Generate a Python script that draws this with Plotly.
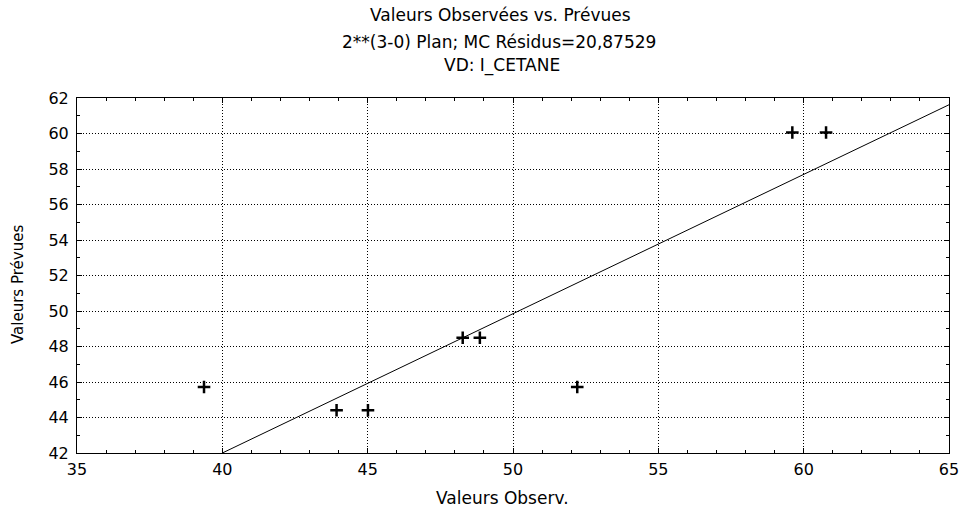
import plotly.graph_objects as go

observed = [39.37, 43.93, 45.01, 48.27, 48.86, 52.21, 59.61, 60.77]
predicted = [45.72, 44.41, 44.41, 48.49, 48.49, 45.72, 60.06, 60.06]
fit_x = [40.0, 65.0]
fit_y = [42.0, 61.62]

title_lines = ["Valeurs Observées vs. Prévues",
               "2**(3-0) Plan; MC Résidus=20,87529",
               "VD: I_CETANE"]
x_title = "Valeurs Observ."
y_title = "Valeurs Prévues"

FONT = "DejaVu Sans, Liberation Sans, Arial, sans-serif"
L, R, T, B = 77, 949, 98, 453
W, H = 964, 511

fig = go.Figure()
fig.add_trace(go.Scatter(x=fit_x, y=fit_y, mode="lines",
                         line=dict(color="black", width=1), showlegend=False,
                         hoverinfo="skip"))
fig.add_trace(go.Scatter(x=observed, y=predicted, mode="markers",
                         marker=dict(symbol="cross-thin", size=9,
                                     line=dict(color="black", width=2.5)),
                         showlegend=False))

axis_common = dict(
    showline=True, linecolor="black", linewidth=1, mirror="ticks",
    ticks="inside", ticklen=5, tickcolor="black",
    showgrid=True, gridcolor="black", griddash="1px,2px", gridwidth=1,
    zeroline=False, automargin=False,
    tickfont=dict(family=FONT, size=16, color="black"),
)

fig.update_xaxes(range=[35, 65], dtick=5, tick0=35, ticklabelstandoff=2,
                 minor=dict(dtick=1, ticks="inside", ticklen=3, tickcolor="black", showgrid=False),
                 **axis_common)
fig.update_yaxes(range=[42, 62], dtick=2, tick0=42, ticklabelstandoff=4,
                 minor=dict(dtick=1, ticks="inside", ticklen=3, tickcolor="black", showgrid=False),
                 **axis_common)

def px_x(px):
    return (px - L) / (R - L)

def px_y(py):
    return (B - py) / (B - T)

centers = [500, 499, 502]
ys = [15, 42, 66]
for txt, cx, cy in zip(title_lines, centers, ys):
    fig.add_annotation(text=txt, xref="paper", yref="paper",
                       x=px_x(cx), y=px_y(cy),
                       xanchor="center", yanchor="middle", showarrow=False,
                       font=dict(family=FONT, size=17, color="black"))

fig.add_annotation(text=x_title, xref="paper", yref="paper",
                   x=px_x(502), y=px_y(498), xanchor="center", yanchor="middle",
                   showarrow=False, font=dict(family=FONT, size=17, color="black"))
fig.add_annotation(text=y_title, xref="paper", yref="paper", textangle=-90,
                   x=px_x(18), y=px_y(285), xanchor="center", yanchor="middle",
                   showarrow=False, font=dict(family=FONT, size=15, color="black"))

fig.update_layout(
    width=W, height=H,
    margin=dict(l=L, r=W - R, t=T, b=H - B, autoexpand=False),
    plot_bgcolor="white", paper_bgcolor="white",
    font=dict(family=FONT, color="black"),
)

fig.write_html("out.html", config={"displayModeBar": False},
               post_script="document.body.style.margin='0';document.body.style.padding='0';")
